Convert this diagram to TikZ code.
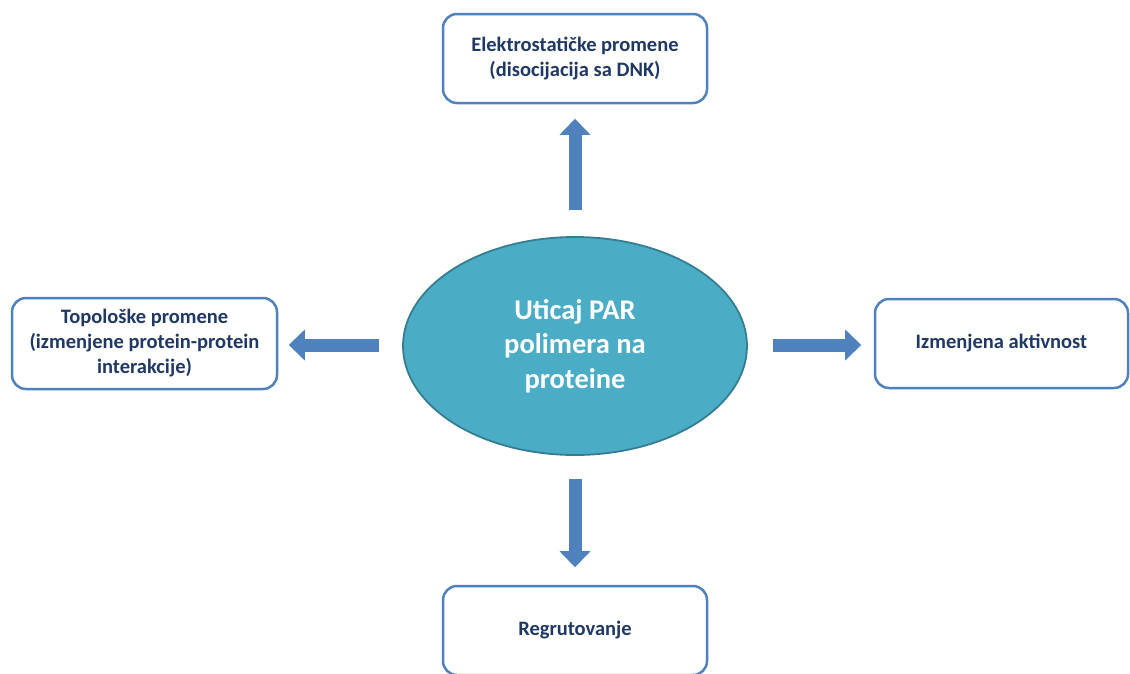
\documentclass[tikz,border=0pt]{standalone}
\usepackage{fontspec}
\setmainfont{Carlito}
\usetikzlibrary{arrows.meta,shapes.geometric}
\definecolor{kant}{HTML}{4F81BD}
\definecolor{pfeilrand}{HTML}{385D8A}
\definecolor{schrift}{HTML}{1F3864}
\definecolor{oval}{HTML}{4BACC6}
\definecolor{ovalrand}{HTML}{357D91}
\begin{document}
\begin{tikzpicture}[x=1pt,y=-1pt,
    box/.style={draw=kant, line width=2.5pt, fill=white, rounded corners=14pt,
      minimum width=264pt, minimum height=89pt, align=center, text=schrift,
      font=\bfseries\fontsize{20.5}{25}\selectfont},
    oval/.style={ellipse, draw=ovalrand, line width=1.8pt, fill=oval,
      minimum width=344pt, minimum height=218pt, align=center, text=white,
      font=\bfseries\fontsize{28.5}{34.5}\selectfont},
    pfeil/.style={draw=kant, line width=13pt, shorten <=1.5pt, shorten >=1.8pt,
      -{Triangle[length=16pt,width=31pt,line width=0pt]},
      preaction={draw=pfeilrand, line width=16pt, shorten <=0pt, shorten >=0pt,
        -{Triangle[length=19pt,width=36pt,line width=0pt]}}}]
      \clip (0,0) rectangle (1130,673);
      \useasboundingbox (0,0) rectangle (1130,673);
      \draw
        (575,58.5) node[box] (elektro) {Elektrostatičke promene\\(disocijacija sa DNK)}
        (144.5,343.5) node[box, minimum width=265pt, minimum height=91pt] (topo) {Topološke promene\\(izmenjene protein-protein\\interakcije)}
        (1001.5,343.5) node[box, minimum width=253pt] (aktiv) {Izmenjena aktivnost}
        (575,630.5) node[box] (regrut) {Regrutovanje}
        (575,346) node[oval] (uticaj) {Uticaj PAR\\polimera na\\proteine};
      \coordinate (gore0) at (575,211);
      \coordinate (gore1) at (575,117);
      \coordinate (levo0) at (380,345);
      \coordinate (levo1) at (287,345);
      \coordinate (desno0) at (771,345);
      \coordinate (desno1) at (863,345);
      \coordinate (dole0) at (575,477);
      \coordinate (dole1) at (575,569);
      \begin{scope}[pfeil]
        \draw (gore0) to (gore1);
        \draw (levo0) to (levo1);
        \draw (desno0) to (desno1);
        \draw (dole0) to (dole1);
      \end{scope}
    \end{tikzpicture}
\end{document}
